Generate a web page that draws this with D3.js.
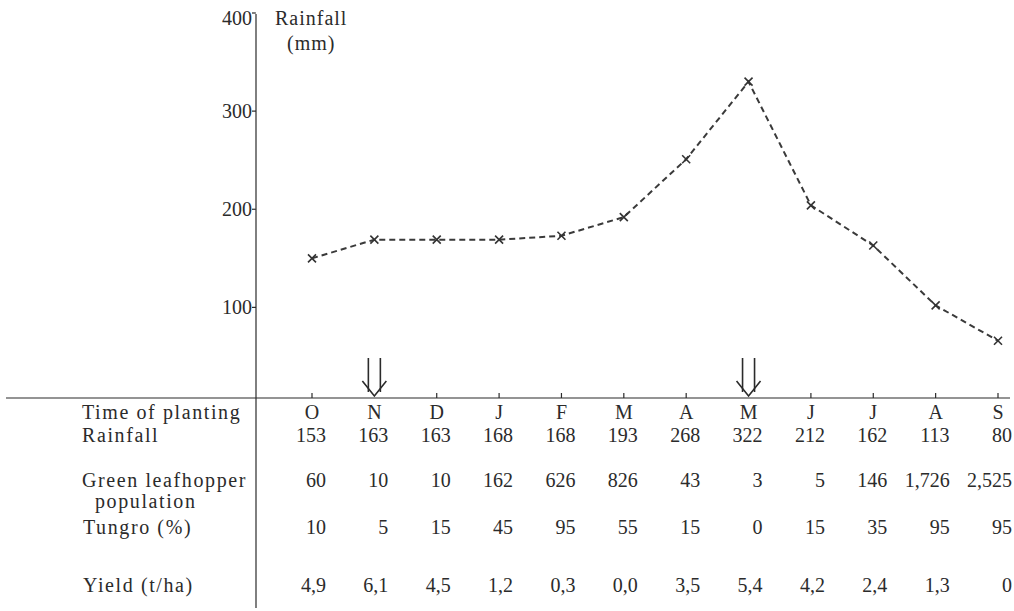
<!DOCTYPE html>
<html>
<head>
<meta charset="utf-8">
<script src="https://cdn.jsdelivr.net/npm/d3@7"></script>
<style>
  html, body { margin: 0; padding: 0; background: #fff; }
</style>
</head>
<body>
<div id="chart"></div>
<script>
// Months of planting (Oct -> Sep)
const months = ['O', 'N', 'D', 'J', 'F', 'M', 'A', 'M', 'J', 'J', 'A', 'S'];
// Plotted rainfall curve (mm)
const rainfallPlotted = [150, 169, 169, 169, 173, 192, 251, 330, 204, 163, 102, 66];
// Table rows
const rainfallTable = ['153', '163', '163', '168', '168', '193', '268', '322', '212', '162', '113', '80'];
const leafhopper = ['60', '10', '10', '162', '626', '826', '43', '3', '5', '146', '1,726', '2,525'];
const tungro = ['10', '5', '15', '45', '95', '55', '15', '0', '15', '35', '95', '95'];
const yieldTha = ['4,9', '6,1', '4,5', '1,2', '0,3', '0,0', '3,5', '5,4', '4,2', '2,4', '1,3', '0'];
const yTicks = [100, 200, 300, 400];
const arrowMonths = [1, 7]; // N and M get the planting arrows

const width = 1014, height = 611;
const axisX = 256, baseY = 398;
const serif = "'Liberation Serif', 'DejaVu Serif', 'Times New Roman', serif";

const svg = d3.select('#chart').append('svg')
    .attr('width', width)
    .attr('height', height)
    .attr('font-family', serif);

const x = d3.scalePoint()
    .domain(d3.range(months.length))
    .range([312, 998]);

const y = d3.scaleLinear()
    .domain([0, 400])
    .range([405.5, 13]);

const ink = '#2b2b2b';

// horizontal base line
svg.append('line')
    .attr('x1', 6).attr('x2', 1010)
    .attr('y1', baseY).attr('y2', baseY)
    .attr('stroke', ink).attr('stroke-width', 1.2);

// vertical axis line (runs down through the table)
svg.append('line')
    .attr('x1', axisX).attr('x2', axisX)
    .attr('y1', 14).attr('y2', 608)
    .attr('stroke', ink).attr('stroke-width', 1.2);

// y ticks + labels
const yt = svg.append('g');
yTicks.forEach(v => {
    yt.append('line')
        .attr('x1', axisX - 4).attr('x2', axisX)
        .attr('y1', y(v)).attr('y2', y(v))
        .attr('stroke', ink).attr('stroke-width', 1.2);
    yt.append('text')
        .attr('x', axisX - 4)
        .attr('y', v === 400 ? 18 : y(v))
        .attr('dy', '0.35em')
        .attr('text-anchor', 'end')
        .attr('font-size', 20)
        .attr('fill', ink)
        .text(v);
});

// axis title
svg.append('text').attr('x', 275).attr('y', 18).attr('dy', '0.35em')
    .attr('font-size', 20).attr('letter-spacing', 1).attr('fill', ink).text('Rainfall');
svg.append('text').attr('x', 287).attr('y', 43).attr('dy', '0.35em')
    .attr('font-size', 20).attr('letter-spacing', 1).attr('fill', ink).text('(mm)');

// small month ticks on the base line
months.forEach((m, i) => {
    if (arrowMonths.includes(i)) return;
    svg.append('line')
        .attr('x1', x(i)).attr('x2', x(i))
        .attr('y1', baseY - 5).attr('y2', baseY)
        .attr('stroke', ink).attr('stroke-width', 1.2);
});

// planting arrows (double shaft, open head)
arrowMonths.forEach(i => {
    const cx = x(i);
    const g = svg.append('g').attr('stroke', ink).attr('stroke-width', 1.6).attr('fill', 'none');
    g.append('line').attr('x1', cx - 6).attr('x2', cx - 6).attr('y1', 358).attr('y2', 392);
    g.append('line').attr('x1', cx + 6).attr('x2', cx + 6).attr('y1', 358).attr('y2', 392);
    g.append('path').attr('d', `M${cx - 12},381 L${cx},396 L${cx + 12},381`);
});

// rainfall line
const line = d3.line()
    .x((d, i) => x(i))
    .y(d => y(d));

svg.append('path')
    .datum(rainfallPlotted)
    .attr('d', line)
    .attr('fill', 'none')
    .attr('stroke', '#3a3a3a')
    .attr('stroke-width', 2)
    .attr('stroke-dasharray', '6,4');

// x markers
const s = 4;
svg.append('g').selectAll('path')
    .data(rainfallPlotted)
    .join('path')
    .attr('d', (d, i) => {
        const px = x(i), py = y(d);
        return `M${px - s},${py - s}L${px + s},${py + s}M${px - s},${py + s}L${px + s},${py - s}`;
    })
    .attr('stroke', '#333')
    .attr('stroke-width', 1.6);

// table row labels
const labels = [
    { t: 'Time of planting', x: 82, y: 412 },
    { t: 'Rainfall', x: 82, y: 435 },
    { t: 'Green leafhopper', x: 82, y: 480 },
    { t: 'population', x: 95, y: 501 },
    { t: 'Tungro (%)', x: 83, y: 527 },
    { t: 'Yield (t/ha)', x: 83, y: 585 }
];
svg.append('g').selectAll('text')
    .data(labels)
    .join('text')
    .attr('x', d => d.x)
    .attr('y', d => d.y)
    .attr('dy', '0.35em')
    .attr('font-size', 20)
    .attr('letter-spacing', 1.6)
    .attr('fill', ink)
    .text(d => d.t);

// month letters centred on columns
svg.append('g').selectAll('text')
    .data(months)
    .join('text')
    .attr('x', (d, i) => x(i))
    .attr('y', 412)
    .attr('dy', '0.35em')
    .attr('text-anchor', 'middle')
    .attr('font-size', 20)
    .attr('fill', ink)
    .text(d => d);

// numeric rows, right aligned a bit past column centre
const rows = [
    { vals: rainfallTable, y: 435 },
    { vals: leafhopper, y: 480 },
    { vals: tungro, y: 527 },
    { vals: yieldTha, y: 585 }
];
rows.forEach(r => {
    svg.append('g').selectAll('text')
        .data(r.vals)
        .join('text')
        .attr('x', (d, i) => x(i) + 14)
        .attr('y', r.y)
        .attr('dy', '0.35em')
        .attr('text-anchor', 'end')
        .attr('font-size', 20)
        .attr('fill', ink)
        .text(d => d);
});
</script>
</body>
</html>
